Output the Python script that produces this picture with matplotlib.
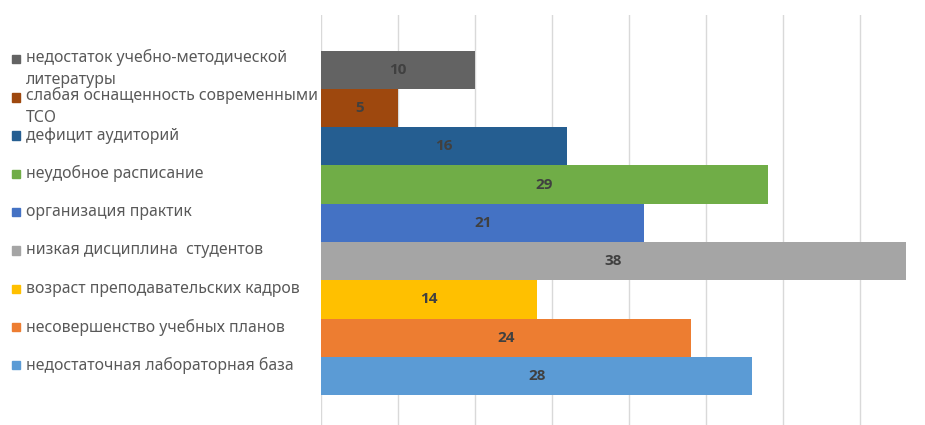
import matplotlib
matplotlib.use("Agg")
from matplotlib import pyplot as plt
from matplotlib import transforms
from matplotlib.patches import Rectangle

# categories listed top to bottom, as in the legend
categories = [
    "недостаток учебно-методической\nлитературы",
    "слабая оснащенность современными\nТСО",
    "дефицит аудиторий",
    "неудобное расписание",
    "организация практик",
    "низкая дисциплина  студентов",
    "возраст преподавательских кадров",
    "несовершенство учебных планов",
    "недостаточная лабораторная база",
]
values = [10, 5, 16, 29, 21, 38, 14, 24, 28]
colors = ["#636363", "#9E480E", "#255E91", "#70AD47", "#4472C4",
          "#A5A5A5", "#FFC000", "#ED7D31", "#5B9BD5"]

plt.rcParams['font.family'] = ['Noto Sans', 'DejaVu Sans']

fig = plt.figure(figsize=(9.25, 4.25), dpi=100)
W, H = 925, 425
ax = fig.add_axes([321 / W, 0, (W - 321) / W, (425 - 15) / H])

n = len(values)
pos = [n - 1 - i for i in range(n)]
ax.barh(pos, values, height=1.0, color=colors, zorder=2)

for p, v in zip(pos, values):
    ax.text(v / 2, p, str(v), ha='center', va='center', fontsize=11,
            fontweight='bold', family=['Open Sans', 'DejaVu Sans'],
            color='#404040', zorder=3)

ax.set_xlim(0, (W - 321) / 15.4)
ax.set_ylim(-1.28, n - 0.5 + 0.93)
ax.set_xticks(range(0, 40, 5))
ax.xaxis.grid(True, color='#D9D9D9', linewidth=1, zorder=0)
ax.tick_params(length=0, labelbottom=False, labelleft=False)
for s in ax.spines.values():
    s.set_visible(False)

# legend on the left, entries aligned with the bar tops
tr = transforms.blended_transform_factory(fig.transFigure, ax.transData)
for p, lab, c in zip(pos, categories, colors):
    y = p + 0.5 - 0.22
    ax.add_patch(Rectangle((12 / W, y - 0.11), 8 / W, 0.22, transform=tr,
                           color=c, clip_on=False))
    if '\n' in lab:
        ax.text(26 / W, y + 0.27, lab, transform=tr, ha='left', va='top',
                fontsize=11.4, color='#595959', linespacing=1.5)
    else:
        ax.text(26 / W, y, lab, transform=tr, ha='left', va='center',
                fontsize=11.4, color='#595959')

fig.savefig("out.png", dpi=100)
